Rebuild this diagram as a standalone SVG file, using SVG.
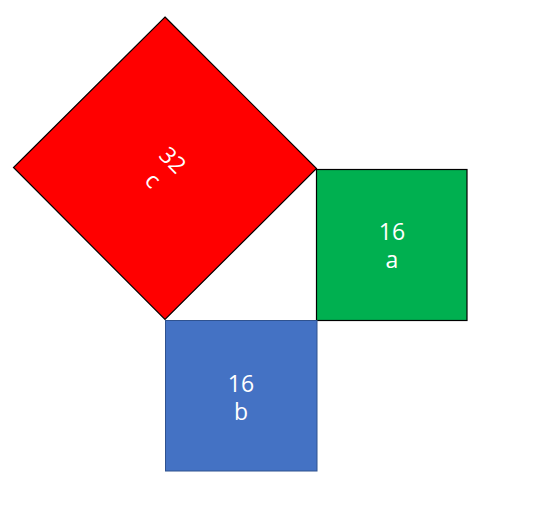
<svg xmlns="http://www.w3.org/2000/svg" width="539" height="512" viewBox="0 0 539 512">
<style>
.lbl{font-family:"Open Sans","Noto Sans","DejaVu Sans",sans-serif;font-size:23px;fill:#ffffff;text-anchor:middle}
</style>
<rect width="539" height="512" fill="#ffffff"/>
<g id="square-c">
<polygon points="165,17 316.5,168.5 165,319.5 13.5,167.5" fill="#ff0000" stroke="#000000" stroke-width="1.2"/>
<g transform="rotate(45 165 168)">
<text class="lbl" x="165" y="165">32</text>
<text class="lbl" x="165" y="193">c</text>
</g>
</g>
<g id="square-a">
<rect x="316.5" y="169.5" width="150.5" height="151" fill="#00b050" stroke="#000000" stroke-width="1.2"/>
<text class="lbl" x="392" y="239.5">16</text>
<text class="lbl" x="392" y="267.5">a</text>
</g>
<g id="square-b">
<rect x="165.5" y="320.5" width="151.5" height="150.5" fill="#4472c4" stroke="#2f528f" stroke-width="1"/>
<text class="lbl" x="241" y="391.5">16</text>
<text class="lbl" x="241" y="419.5">b</text>
</g>
<g id="connectors"/>
</svg>
